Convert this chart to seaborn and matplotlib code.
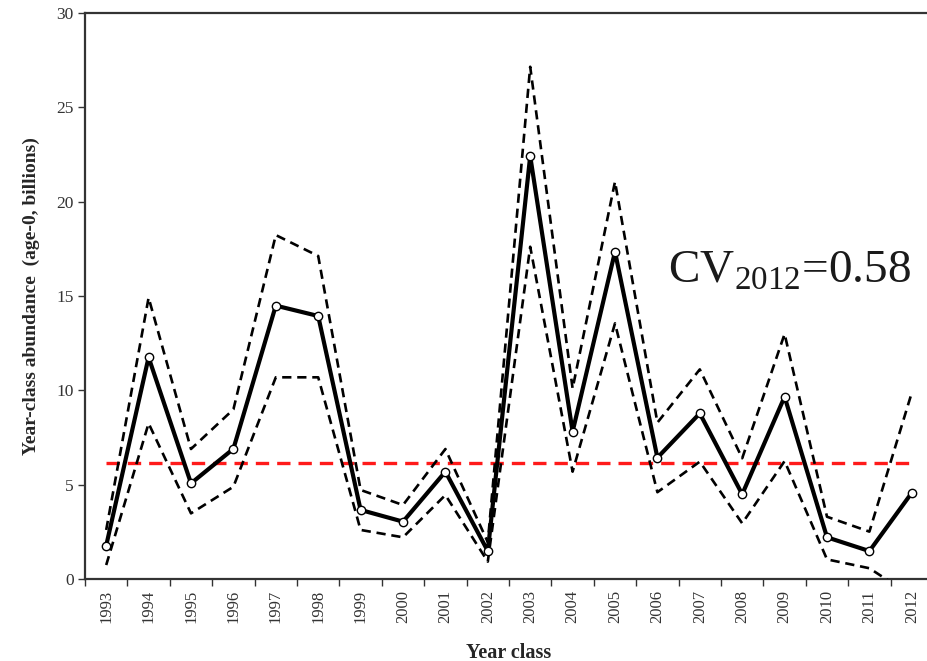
import matplotlib
matplotlib.use("Agg")
import matplotlib.pyplot as plt
import seaborn as sns
import pandas as pd
import numpy as np

years = list(range(1993, 2013))
abundance = [1.77, 11.75, 5.07, 6.9, 14.49, 13.94, 3.66, 3.04, 5.69, 1.48,
             22.42, 7.81, 17.35, 6.43, 8.78, 4.49, 9.66, 2.21, 1.48, 4.57]
upper = [2.6, 14.91, 6.89, 8.99, 18.23, 17.12, 4.72, 3.92, 6.89, 1.95,
         27.15, 10.1, 21.06, 8.29, 11.11, 6.4, 12.99, 3.3, 2.51, 9.88]
lower = [0.74, 8.25, 3.48, 4.89, 10.69, 10.69, 2.6, 2.21, 4.45, 0.92,
         17.61, 5.69, 13.55, 4.6, 6.22, 2.95, 6.25, 1.04, 0.57, -0.9]
mean_level = 6.15
y_ticks = [0, 5, 10, 15, 20, 25, 30]

df = pd.DataFrame({"year": years, "abundance": abundance,
                   "upper": upper, "lower": lower,
                   "mean": [mean_level] * len(years)})

sns.set_style("white")
plt.rcParams["font.family"] = ["Liberation Serif", "DejaVu Serif"]
plt.rcParams["mathtext.fontset"] = "custom"
plt.rcParams["mathtext.rm"] = "Liberation Serif"

fig = plt.figure(figsize=(9.27, 6.61), dpi=100)
ax = fig.add_axes([85 / 927, 1 - 579 / 661, 848 / 927, (579 - 13) / 661])

sns.lineplot(data=df, x="year", y="mean", ax=ax, color="#ff1a1a", lw=2.4,
             linestyle=(0, (4, 2.4)), zorder=2)
sns.lineplot(data=df, x="year", y="upper", ax=ax, color="black", lw=1.9,
             linestyle=(0, (3.5, 2.2)), zorder=3)
sns.lineplot(data=df, x="year", y="lower", ax=ax, color="black", lw=1.9,
             linestyle=(0, (3.5, 2.2)), zorder=3)
sns.lineplot(data=df, x="year", y="abundance", ax=ax, color="black", lw=3.0,
             marker="o", markersize=6, markerfacecolor="white",
             markeredgecolor="black", markeredgewidth=1.0, zorder=4)

ax.set_xlim(years[0] - 0.5, years[-1] + 0.5)
ax.set_ylim(0, 30)
ax.set_yticks(y_ticks)
ax.set_yticklabels([str(t) for t in y_ticks], fontsize=12.5, color="#333333")
ax.set_xticks(years)
ax.set_xticklabels([str(y) for y in years], rotation=90, fontsize=12,
                   color="#333333")
ax.set_xticks(np.arange(years[0] - 0.5, years[-1] + 1.0, 1.0), minor=True)
ax.tick_params(axis="x", which="major", length=0, pad=8)
ax.tick_params(axis="x", which="minor", length=5, width=1.0, color="#333333",
               direction="out", bottom=True)
ax.tick_params(axis="y", which="major", length=5, width=1.0, color="#333333",
               direction="out", left=True, pad=3)

for s in ["left", "bottom", "top"]:
    ax.spines[s].set_color("#333333")
    ax.spines[s].set_linewidth(1.6)
ax.spines["right"].set_visible(False)

ax.set_xlabel("Year class", fontsize=14.5, fontweight="bold", labelpad=14)
ax.set_ylabel("Year-class abundance  (age-0, billions)", fontsize=14,
              fontweight="bold", labelpad=12)

ax.text(2006.25, 15.74, r"CV$_{2012}$=0.58", fontsize=34, ha="left",
        va="baseline", color="#1a1a1a")

fig.savefig("out.png", dpi=100)
